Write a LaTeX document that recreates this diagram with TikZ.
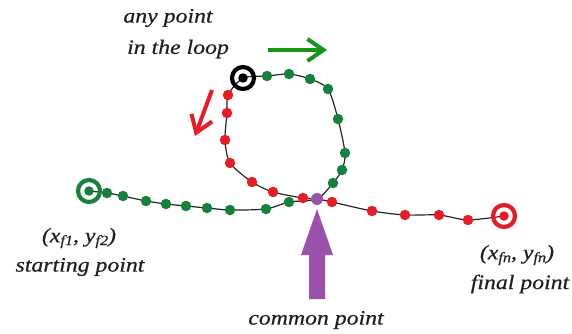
\documentclass[tikz,border=0pt]{standalone}
\usepackage{fontspec}
\setmainfont{Liberation Serif}
\newfontfamily\lblfont[FakeBold=0.5]{Liberation Serif Italic}
\usetikzlibrary{arrows.meta}
\definecolor{dgreen}{RGB}{22,128,62}
\definecolor{agreen}{RGB}{24,150,24}
\definecolor{dred}{RGB}{232,28,36}
\definecolor{dpurple}{RGB}{155,82,170}
\newcommand\lbl[1]{\scalebox{1.16}[1]{\fontsize{20.5}{24}\lblfont #1}}
\newcommand\sbs[1]{\raisebox{-0.3ex}{\fontsize{14}{14}\lblfont #1}}
\begin{document}
\begin{tikzpicture}[x=1pt,y=-1pt,
  gdot/.style={circle,fill=dgreen,inner sep=0pt,minimum size=10.5pt},
  rdot/.style={circle,fill=dred,inner sep=0pt,minimum size=10.5pt},
  ring/.style={circle,draw=#1,line width=4.2pt,minimum size=22pt,inner sep=0pt},
  core/.style={circle,fill=#1,inner sep=0pt,minimum size=9.5pt},
  lab/.style={inner sep=0pt,text=black!88},
  dirarrow/.style={line width=4pt,-{Straight Barb[length=16pt,width=22pt]}}]
\useasboundingbox (0,0) rectangle (572,334);
% path line
\draw[line width=1.2pt,black!85] plot[smooth,tension=0.45] coordinates {
 (89,191) (107,193) (123,196) (146,201) (166,204) (186,206) (207,208) (230,210)
 (266,209) (289,202) (317,199) (333,183) (342,170) (345,153) (338,119) (328,89)
 (310,79) (289,74) (267,76) (243,78) (228,95) (227,113) (225,140) (230,163)
 (252,182) (273,192) (303,198) (317,199) (332,202) (372,211) (405,215) (439,215)
 (468,220) (504,216)};
% green dots
\foreach \p [count=\i] in {(107,193),(123,196),(146,201),(166,204),(186,206),(207,208),(230,210),(266,209),(289,202),(333,183),(342,170),(345,153),(338,119),(328,89),(310,79),(289,74),(267,76)}
  \node[gdot] (g\i) at \p {};
% red dots
\foreach \p [count=\i] in {(228,95),(227,113),(225,140),(230,163),(252,182),(273,192),(303,198),(332,202),(372,211),(405,215),(439,215),(468,220)}
  \node[rdot] (r\i) at \p {};
% common point
\node[circle,fill=dpurple,inner sep=0pt,minimum size=12pt] (common) at (317,199) {};
% start, final and loop point markers
\node[ring=dgreen] (start) at (89,191) {};
\node[core=dgreen] (startc) at (start) {};
\node[ring=dred] (final) at (504,216) {};
\node[core=dred] (finalc) at (final) {};
\node[ring=black] (loop) at (243,78) {};
\node[core=black] (loopc) at (loop) {};
% direction arrows
\coordinate (ga) at (268,50);
\coordinate (gb) at (327,50);
\draw[dirarrow,agreen] (ga) -- (gb);
\coordinate (ra) at (212,90);
\coordinate (rb) at (195,136);
\draw[dirarrow,dred] (ra) -- (rb);
% purple block arrow
\fill[dpurple] (317,209) -- (333,255) -- (325,255) -- (325,299) -- (309,299) -- (309,255) -- (301,255) -- cycle;
% labels
\node[lab] (t1) at (168,18) {\lbl{any point}};
\node[lab] (t2) at (178,49) {\lbl{in the loop}};
\node[lab] (t3) at (79,238) {\lbl{(x\sbs{f1}, y\sbs{f2})}};
\node[lab] (t4) at (80,267) {\lbl{starting point}};
\node[lab] (t5) at (517,255) {\lbl{(x\sbs{fn}, y\sbs{fn})}};
\node[lab] (t6) at (520,284) {\lbl{final point}};
\node[lab] (t7) at (316,320) {\lbl{common point}};
\end{tikzpicture}
\end{document}
